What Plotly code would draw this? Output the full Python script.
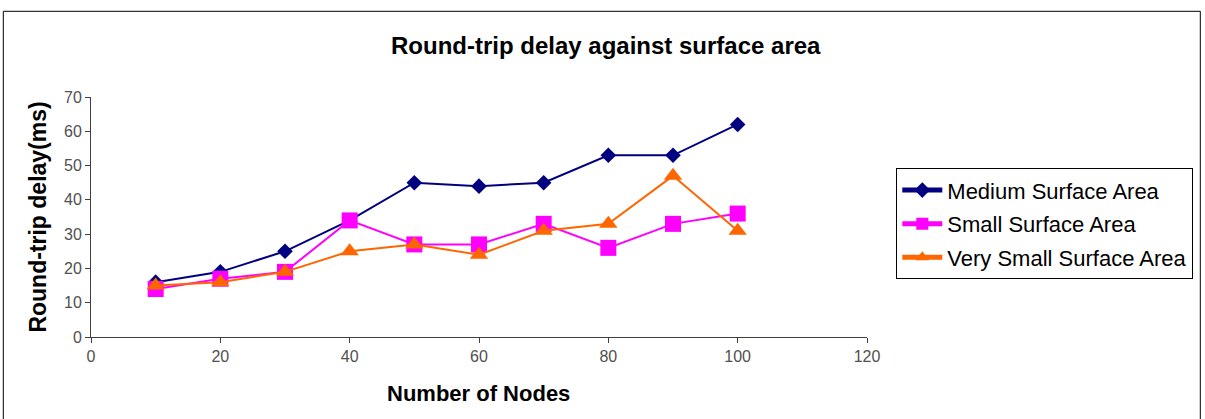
import plotly.graph_objects as go

nodes = [10, 20, 30, 40, 50, 60, 70, 80, 90, 100]
medium = [16, 19, 25, 34, 45, 44, 45, 53, 53, 62]
small = [14, 17, 19, 34, 27, 27, 33, 26, 33, 36]
very_small = [15, 16, 19, 25, 27, 24, 31, 33, 47, 31]

series_names = ["Medium Surface Area", "Small Surface Area", "Very Small Surface Area"]
colors = ["#000080", "#FF00FF", "#FF6600"]
symbols = ["diamond", "square", "triangle-up"]
sizes = [12, 16, 16]

W, H = 1205, 419
L, R, T, B = 90.7, 866.7, 96.7, 336.7
pw, ph = R - L, B - T

def px2x(px):
    return (px - L) / pw

def px2y(py):
    return (B - py) / ph

fig = go.Figure()
for i, (name, vals) in enumerate(zip(series_names, [medium, small, very_small])):
    fig.add_trace(go.Scatter(
        x=nodes, y=vals, name=name, mode="lines+markers",
        legendgroup=f"g{i}",
        line=dict(color=colors[i], width=2),
        marker=dict(symbol=symbols[i], color=colors[i], size=sizes[i],
                    line=dict(width=0)),
    ))

FONT = "Liberation Sans, Arial, sans-serif"

fig.update_layout(
    width=W, height=H,
    margin=dict(l=L, r=W - R, t=T, b=H - B, pad=0),
    paper_bgcolor="white", plot_bgcolor="white",
    font=dict(family=FONT, color="black"),
    showlegend=True,
    xaxis=dict(range=[0, 120], tickvals=[0, 20, 40, 60, 80, 100, 120],
               showgrid=False, zeroline=False, showline=True,
               linecolor="#404040", linewidth=1, ticks="outside", ticklen=5,
               tickcolor="#404040", tickfont=dict(size=16, color="#505050")),
    yaxis=dict(range=[0, 70], tickvals=[0, 10, 20, 30, 40, 50, 60, 70],
               showgrid=False, zeroline=False, showline=True,
               linecolor="#404040", linewidth=1, ticks="outside", ticklen=5,
               tickcolor="#404040", tickfont=dict(size=16, color="#505050")),
    legend=dict(x=px2x(896), y=px2y(168), xanchor="left", yanchor="top",
                bordercolor="black", borderwidth=1, bgcolor="white",
                font=dict(size=22, family=FONT, color="black"),
                tracegroupgap=2, itemwidth=40, itemsizing="constant"),
)

fig.add_annotation(text="<b>Round-trip delay against surface area</b>",
                   xref="paper", yref="paper", x=px2x(606), y=px2y(45),
                   xanchor="center", yanchor="middle", showarrow=False,
                   font=dict(size=24, family=FONT, color="black"))
fig.add_annotation(text="<b>Number of Nodes</b>",
                   xref="paper", yref="paper", x=px2x(478), y=px2y(393),
                   xanchor="center", yanchor="middle", showarrow=False,
                   font=dict(size=22, family=FONT, color="black"))
fig.add_annotation(text="<b>Round-trip delay(ms)</b>",
                   xref="paper", yref="paper", x=px2x(38), y=px2y(217),
                   xanchor="center", yanchor="middle", showarrow=False, textangle=-90,
                   font=dict(size=23, family=FONT, color="black"))

fig.add_shape(type="rect", xref="paper", yref="paper",
              x0=px2x(3), x1=px2x(1200), y0=px2y(430), y1=px2y(11),
              line=dict(color="black", width=1), fillcolor="rgba(0,0,0,0)", layer="below")

fig.write_html("out.html", config={"displayModeBar": False},
               post_script="document.body.style.margin='0';document.body.style.padding='0';document.body.style.overflow='hidden';")
